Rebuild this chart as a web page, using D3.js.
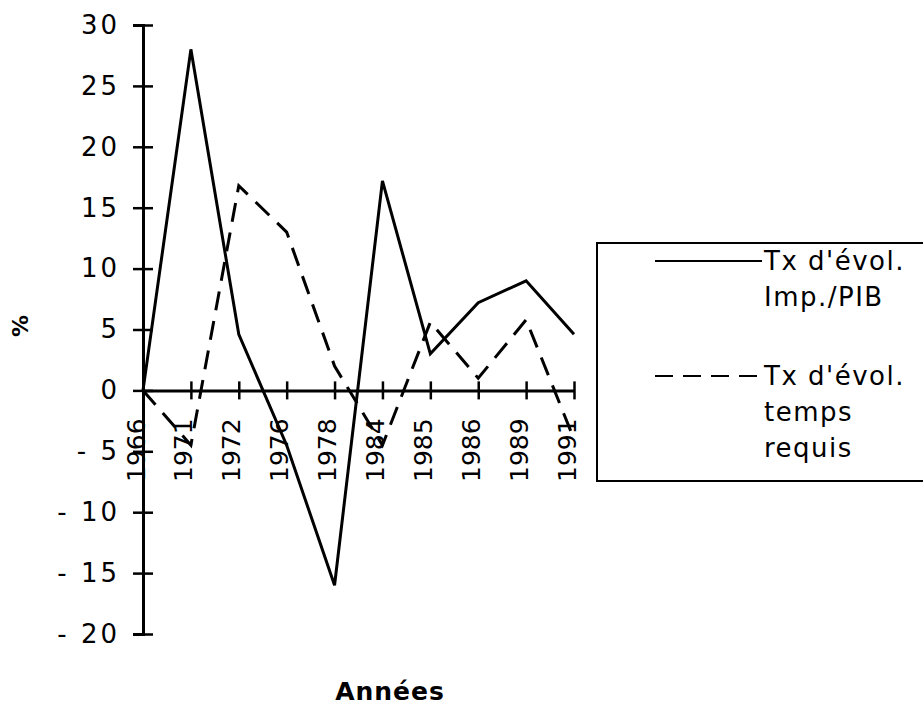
<!DOCTYPE html>
<html>
<head>
<meta charset="utf-8">
<script src="https://cdn.jsdelivr.net/npm/d3@7"></script>
<style>
  body { margin: 0; background: #fff; }
  svg text { font-family: "DejaVu Sans", Verdana, sans-serif; fill: #000; }
</style>
</head>
<body>
<div id="content"></div>
<script>
// data
var years = ["1966", "1971", "1972", "1976", "1978", "1984", "1985", "1986", "1989", "1991"];
var impPib = [0, 28, 4.6, -4.5, -16, 17.2, 3, 7.2, 9, 4.6];
var tempsRequis = [0, -4.5, 16.8, 13, 2, -4.5, 5.6, 1, 5.8, -4];
var yTicks = [-20, -15, -10, -5, 0, 5, 10, 15, 20, 25, 30];
var legendLabels = [["Tx d'évol.", "Imp./PIB"], ["Tx d'évol.", "temps", "requis"]];

var width = 923, height = 721;

var svg = d3.select("#content")
  .append("svg")
    .attr("width", width)
    .attr("height", height);

// scales
var x = d3.scalePoint()
    .domain(years)
    .range([143, 574]);

var y = d3.scaleLinear()
    .domain([-20, 30])
    .range([634, 25]);

// y axis, ticks crossing the line
var yAxis = svg.append("g")
    .attr("transform", "translate(" + x(years[0]) + ",0)")
    .call(d3.axisLeft(y).tickValues(yTicks).tickSize(10).tickPadding(13)
      .tickFormat(function(d) { return d < 0 ? "- " + Math.abs(d) : d; }));
yAxis.select(".domain").attr("stroke-width", 3);
yAxis.selectAll(".tick line").attr("x1", 10).attr("x2", -10).attr("stroke-width", 2.5);
yAxis.selectAll(".tick text")
    .style("font-size", "26px")
    .style("letter-spacing", "3px");

// x axis sits on zero
var xAxis = svg.append("g")
    .attr("transform", "translate(0," + y(0) + ")")
    .call(d3.axisBottom(x).tickSize(9).tickSizeOuter(0));
xAxis.select(".domain").attr("stroke-width", 3);
xAxis.selectAll(".tick line").attr("y1", -9).attr("y2", 9).attr("stroke-width", 2.5);
xAxis.selectAll(".tick text")
    .style("font-size", "25px")
    .attr("text-anchor", "end")
    .attr("dy", 0)
    .attr("transform", "translate(1,28) rotate(-90)")
    .attr("x", 0)
    .attr("y", 0);

// lines
var line = d3.line()
    .x(function(d, i) { return x(years[i]); })
    .y(function(d) { return y(d); });

svg.append("path")
    .datum(impPib)
    .attr("fill", "none")
    .attr("stroke", "#000")
    .attr("stroke-width", 3)
    .attr("d", line);

svg.append("path")
    .datum(tempsRequis)
    .attr("fill", "none")
    .attr("stroke", "#000")
    .attr("stroke-width", 3)
    .attr("stroke-dasharray", "19,11")
    .attr("d", line);

// axis titles
svg.append("text")
    .attr("transform", "translate(28,326) rotate(-90)")
    .attr("text-anchor", "middle")
    .style("font-size", "22px")
    .style("font-weight", "bold")
    .text("%");

svg.append("text")
    .attr("x", 390)
    .attr("y", 700)
    .attr("text-anchor", "middle")
    .style("font-size", "25px")
    .style("font-weight", "600")
    .style("letter-spacing", "1px")
    .text("Années");

// legend
var legend = svg.append("g");
legend.append("rect")
    .attr("x", 597)
    .attr("y", 243)
    .attr("width", 360)
    .attr("height", 238)
    .attr("fill", "none")
    .attr("stroke", "#000")
    .attr("stroke-width", 2);

var rows = [
  {y: 261, dash: null, labels: legendLabels[0]},
  {y: 376, dash: "18,10", labels: legendLabels[1]}
];
rows.forEach(function(r) {
  legend.append("line")
      .attr("x1", 655).attr("x2", 762)
      .attr("y1", r.y).attr("y2", r.y)
      .attr("stroke", "#000")
      .attr("stroke-width", 2)
      .attr("stroke-dasharray", r.dash);
  r.labels.forEach(function(t, i) {
    legend.append("text")
        .attr("x", 764)
        .attr("y", r.y + 9 + i * 36)
        .style("font-size", "26px")
        .style("letter-spacing", "1.5px")
        .text(t);
  });
});
</script>
</body>
</html>
